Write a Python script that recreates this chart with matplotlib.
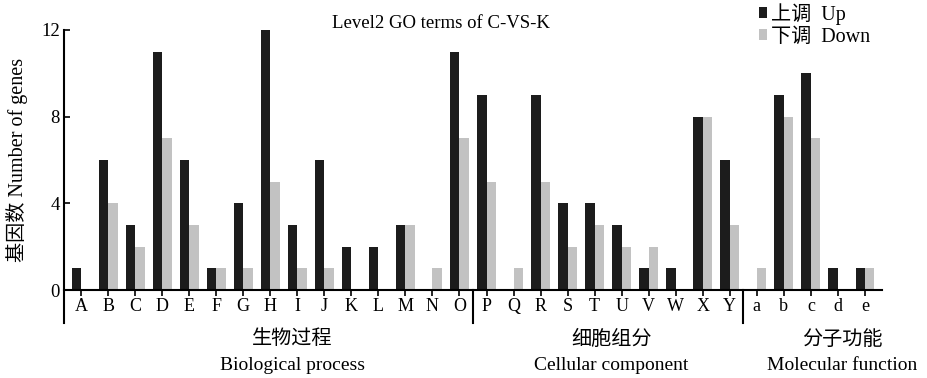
import matplotlib
matplotlib.use("Agg")
import matplotlib.pyplot as plt
import numpy as np

categories = list("ABCDEFGHIJKLMNOPQRSTUVWXY") + list("abcde")
up = [1, 6, 3, 11, 6, 1, 4, 12, 3, 6, 2, 2, 3, 0, 11,
      9, 0, 9, 4, 4, 3, 1, 1, 8, 6,
      0, 9, 10, 1, 1]
down = [0, 4, 2, 7, 3, 1, 1, 5, 1, 1, 0, 0, 3, 1, 7,
        5, 1, 5, 2, 3, 2, 2, 0, 8, 3,
        1, 8, 7, 0, 1]
groups_cn = ["生物过程", "细胞组分", "分子功能"]
groups_en = ["Biological process", "Cellular component", "Molecular function"]
group_bounds = [14.5, 24.5]
yticks = [0, 4, 8, 12]

FAM = ['Liberation Serif', 'Noto Sans CJK SC']
plt.rcParams['font.family'] = FAM

fig = plt.figure(figsize=(9.27, 3.78), dpi=100)
ax = fig.add_axes([64/927, 1-323/378, (882-64)/927, (323-30)/378])

x = np.arange(len(categories))
w = 0.35
ax.bar(x - w/2, up, width=w, color='#1c1c1c', label='上调  Up')
ax.bar(x + w/2, down, width=w, color='#c2c2c2', label='下调  Down')

ax.set_xlim(-0.63, 29.63)
ax.set_ylim(-1.52, 12)
ax.spines['top'].set_visible(False)
ax.spines['right'].set_visible(False)
ax.spines['bottom'].set_position(('data', 0))
ax.spines['left'].set_linewidth(1.5)
ax.spines['bottom'].set_linewidth(1.5)
ax.set_xticks(x)
ax.set_xticklabels(categories, fontsize=13)
ax.tick_params(axis='x', direction='out', length=4, width=1.2, pad=2)
ax.set_yticks(yticks)
ax.set_yticklabels([str(v) for v in yticks], fontsize=13.5)
ax.tick_params(axis='y', direction='in', length=4, width=1.2, pad=3)
for b in group_bounds:
    ax.plot([b, b], [0, -1.52], color='black', lw=1.5, clip_on=False)

ax.set_ylabel('基因数 Number of genes', fontsize=14.5)
ax.yaxis.set_label_coords((28-64)/818, (323-160)/293)

fig.text(441/927, 1-23/378, 'Level2 GO terms of C-VS-K', ha='center', va='center', fontsize=13.5)

cn_x = [292, 612, 842]
en_x = [292, 611, 842]
for cx, ex, c, e in zip(cn_x, en_x, groups_cn, groups_en):
    fig.text(cx/927, 1-340/378, c, ha='center', va='center', fontsize=14.5)
    fig.text(ex/927, 1-366/378, e, ha='center', va='center', fontsize=14)

leg = fig.legend(loc='upper left', bbox_to_anchor=(747/927, 1.024), frameon=False,
                 fontsize=14.5, handlelength=0.4, handleheight=0.4, handletextpad=0.2,
                 labelspacing=0.15, borderpad=0.1)

fig.savefig('out.png', dpi=100)
